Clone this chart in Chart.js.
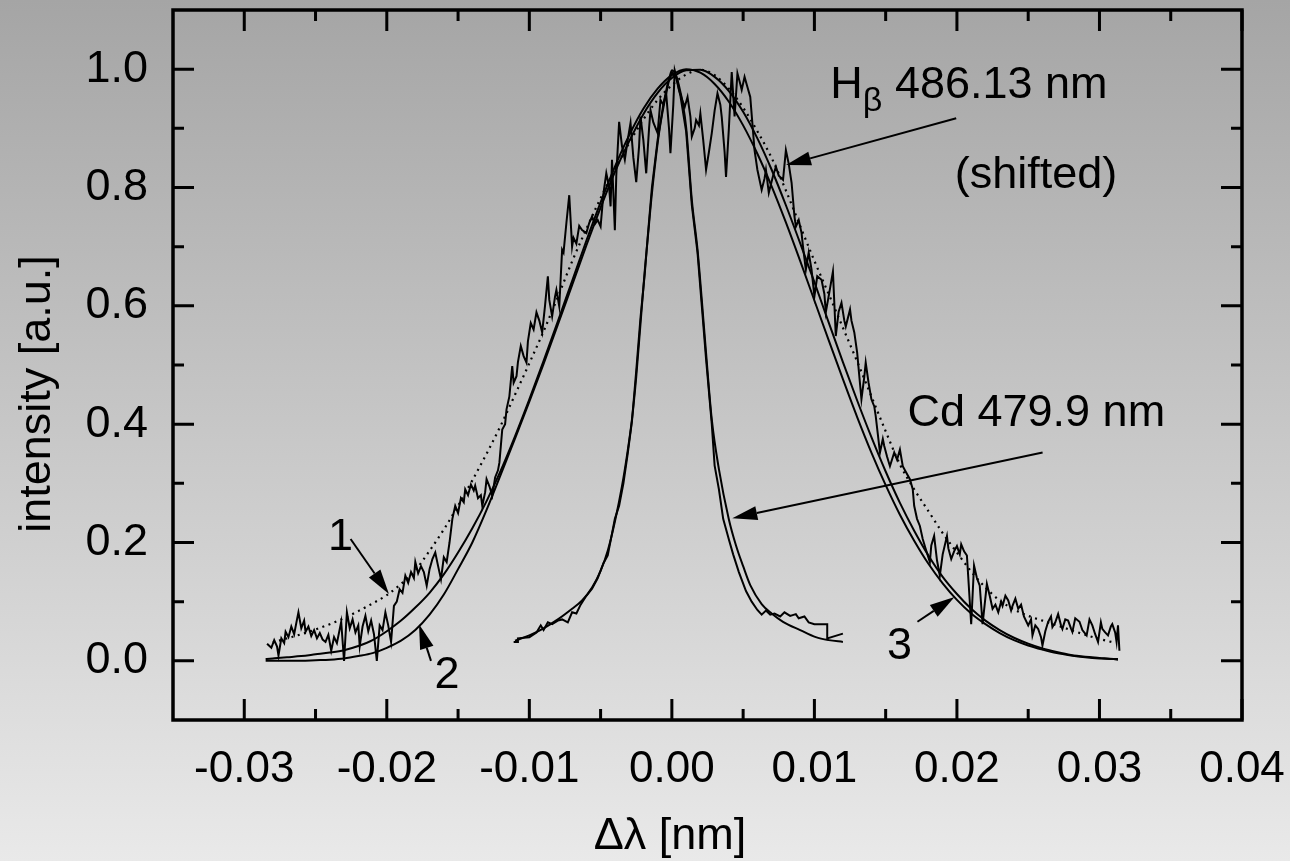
<!DOCTYPE html>
<html>
<head>
<meta charset="utf-8">
<script src="https://cdn.jsdelivr.net/npm/chart.js@4.4.1/dist/chart.umd.min.js"></script>
<style>
  html, body { margin: 0; padding: 0; background: #e8e8e8; }
</style>
</head>
<body>
<canvas id="chart" width="1290" height="861"></canvas>
<script>
// axis ticks
const xTickValues = [-0.03, -0.02, -0.01, 0.0, 0.01, 0.02, 0.03, 0.04]
const xMinorValues = [-0.025, -0.015, -0.005, 0.005, 0.015, 0.025, 0.035]
const yTickValues = [0.0, 0.2, 0.4, 0.6, 0.8, 1.0]
const yMinorValues = [0.1, 0.3, 0.5, 0.7, 0.9]

// H-beta measured profile [dlambda, intensity]
const hbData = [
  [-0.0284,0.029],[-0.0281,0.022],[-0.0279,0.035],[-0.0277,0.024],[-0.0276,0.009],[-0.0274,0.038],[-0.0272,0.030],[-0.0271,0.049],
  [-0.0269,0.040],[-0.0267,0.058],[-0.0265,0.045],[-0.0263,0.070],[-0.0262,0.082],[-0.0260,0.055],[-0.0258,0.068],[-0.0257,0.049],
  [-0.0255,0.058],[-0.0253,0.042],[-0.0251,0.052],[-0.0249,0.038],[-0.0247,0.047],[-0.0245,0.036],[-0.0243,0.032],[-0.0241,0.044],
  [-0.0239,0.017],[-0.0237,0.040],[-0.0235,0.030],[-0.0232,0.066],[-0.0230,0.000],[-0.0228,0.082],[-0.0226,0.055],[-0.0224,0.070],
  [-0.0222,0.048],[-0.0220,0.060],[-0.0219,0.025],[-0.0217,0.058],[-0.0215,0.076],[-0.0213,0.050],[-0.0211,0.068],[-0.0209,0.045],
  [-0.0207,0.000],[-0.0205,0.060],[-0.0203,0.052],[-0.0201,0.082],[-0.0199,0.060],[-0.0197,0.032],[-0.0195,0.093],[-0.0193,0.100],
  [-0.0191,0.121],[-0.0189,0.115],[-0.0187,0.144],[-0.0185,0.132],[-0.0183,0.150],[-0.0181,0.140],[-0.0180,0.167],[-0.0178,0.148],
  [-0.0176,0.160],[-0.0174,0.150],[-0.0172,0.127],[-0.0170,0.155],[-0.0168,0.172],[-0.0166,0.183],[-0.0164,0.160],[-0.0162,0.138],
  [-0.0160,0.175],[-0.0158,0.167],[-0.0156,0.200],[-0.0154,0.240],[-0.0152,0.262],[-0.0150,0.250],[-0.0148,0.275],[-0.0146,0.268],
  [-0.0145,0.290],[-0.0143,0.280],[-0.0141,0.298],[-0.0139,0.288],[-0.0138,0.296],[-0.0136,0.275],[-0.0134,0.280],[-0.0133,0.262],
  [-0.0131,0.285],[-0.0130,0.307],[-0.0128,0.295],[-0.0126,0.279],[-0.0124,0.310],[-0.0122,0.322],[-0.0121,0.335],[-0.0119,0.391],
  [-0.0117,0.400],[-0.0116,0.425],[-0.0114,0.447],[-0.0112,0.498],[-0.0111,0.470],[-0.0109,0.481],[-0.0108,0.505],[-0.0106,0.532],
  [-0.0104,0.515],[-0.0102,0.504],[-0.0101,0.540],[-0.0099,0.571],[-0.0097,0.560],[-0.0095,0.589],[-0.0093,0.575],[-0.0091,0.555],
  [-0.0089,0.600],[-0.0087,0.650],[-0.0086,0.610],[-0.0084,0.582],[-0.0082,0.615],[-0.0081,0.627],[-0.0079,0.599],[-0.0077,0.695],
  [-0.0076,0.690],[-0.0074,0.740],[-0.0072,0.787],[-0.0070,0.700],[-0.0069,0.715],[-0.0067,0.705],[-0.0065,0.735],[-0.0063,0.728],
  [-0.0060,0.723],[-0.0058,0.740],[-0.0056,0.751],[-0.0054,0.738],[-0.0052,0.745],[-0.0050,0.734],[-0.0048,0.790],[-0.0046,0.824],
  [-0.0044,0.800],[-0.0043,0.768],[-0.0042,0.847],[-0.0040,0.728],[-0.0039,0.820],[-0.0037,0.911],[-0.0035,0.870],[-0.0033,0.847],
  [-0.0031,0.880],[-0.0029,0.909],[-0.0027,0.850],[-0.0025,0.809],[-0.0023,0.870],[-0.0022,0.920],[-0.0020,0.880],[-0.0018,0.824],
  [-0.0016,0.900],[-0.0015,0.931],[-0.0013,0.910],[-0.0010,0.892],[-0.0008,0.948],[-0.0006,0.940],[-0.0004,0.959],[-0.0002,0.900],
  [-0.0001,0.858],[0.0001,0.940],[0.0002,0.998],[0.0004,0.980],[0.0005,0.965],[0.0007,0.950],[0.0009,0.936],[0.0011,0.953],
  [0.0013,0.920],[0.0014,0.886],[0.0016,0.900],[0.0017,0.914],[0.0019,0.905],[0.0020,0.925],[0.0022,0.880],[0.0024,0.830],
  [0.0026,0.860],[0.0028,0.892],[0.0030,0.930],[0.0032,0.959],[0.0034,0.940],[0.0035,0.919],[0.0037,0.860],[0.0038,0.818],
  [0.0040,0.900],[0.0042,0.995],[0.0044,0.920],[0.0046,0.993],[0.0048,0.975],[0.0049,0.965],[0.0051,0.987],[0.0053,0.970],
  [0.0055,0.953],[0.0058,0.863],[0.0060,0.830],[0.0063,0.796],[0.0065,0.815],[0.0066,0.830],[0.0068,0.791],[0.0071,0.820],
  [0.0073,0.835],[0.0075,0.820],[0.0078,0.813],[0.0080,0.863],[0.0082,0.840],[0.0084,0.808],[0.0086,0.751],[0.0087,0.734],
  [0.0089,0.745],[0.0091,0.723],[0.0092,0.700],[0.0094,0.661],[0.0096,0.690],[0.0098,0.661],[0.0100,0.616],[0.0102,0.650],
  [0.0105,0.644],[0.0107,0.620],[0.0108,0.589],[0.0111,0.630],[0.0113,0.658],[0.0115,0.549],[0.0117,0.590],[0.0119,0.605],
  [0.0121,0.575],[0.0122,0.565],[0.0125,0.594],[0.0126,0.575],[0.0128,0.555],[0.0130,0.521],[0.0133,0.442],[0.0135,0.480],
  [0.0136,0.504],[0.0138,0.470],[0.0140,0.442],[0.0142,0.430],[0.0143,0.414],[0.0146,0.352],[0.0148,0.375],[0.0149,0.363],
  [0.0151,0.345],[0.0153,0.329],[0.0156,0.352],[0.0158,0.340],[0.0160,0.357],[0.0162,0.329],[0.0164,0.320],[0.0167,0.307],
  [0.0169,0.290],[0.0170,0.262],[0.0172,0.240],[0.0174,0.228],[0.0176,0.206],[0.0178,0.190],[0.0181,0.167],[0.0182,0.195],
  [0.0184,0.211],[0.0186,0.170],[0.0188,0.144],[0.0190,0.180],[0.0193,0.211],[0.0194,0.190],[0.0196,0.172],[0.0198,0.185],
  [0.0200,0.194],[0.0202,0.180],[0.0203,0.197],[0.0205,0.185],[0.0207,0.178],[0.0210,0.062],[0.0212,0.161],[0.0214,0.140],
  [0.0216,0.127],[0.0218,0.062],[0.0221,0.130],[0.0223,0.110],[0.0225,0.088],[0.0227,0.095],[0.0229,0.082],[0.0231,0.100],
  [0.0232,0.093],[0.0234,0.110],[0.0236,0.102],[0.0238,0.085],[0.0239,0.093],[0.0241,0.105],[0.0243,0.088],[0.0245,0.095],
  [0.0247,0.075],[0.0250,0.060],[0.0252,0.070],[0.0253,0.043],[0.0255,0.060],[0.0257,0.054],[0.0259,0.040],[0.0260,0.026],
  [0.0262,0.050],[0.0264,0.066],[0.0266,0.075],[0.0267,0.057],[0.0269,0.065],[0.0271,0.079],[0.0273,0.060],[0.0274,0.054],
  [0.0276,0.070],[0.0278,0.068],[0.0280,0.055],[0.0281,0.049],[0.0283,0.072],[0.0286,0.066],[0.0288,0.052],[0.0291,0.043],
  [0.0293,0.070],[0.0295,0.060],[0.0297,0.045],[0.0299,0.032],[0.0301,0.065],[0.0302,0.054],[0.0304,0.048],[0.0306,0.043],
  [0.0308,0.058],[0.0309,0.062],[0.0311,0.048],[0.0312,0.032],[0.0313,0.060],[0.0314,0.017]
]

// fit 1 (dotted)
const fit1X = [-0.028,-0.027,-0.026,-0.025,-0.024,-0.023,-0.022,-0.021,-0.020,-0.019,-0.018,-0.017,-0.016,-0.015,-0.014,
  -0.013,-0.012,-0.011,-0.010,-0.009,-0.008,-0.007,-0.006,-0.005,-0.004,-0.003,-0.002,-0.001,0.000,0.001,0.002,0.003,0.004,
  0.005,0.006,0.007,0.008,0.009,0.010,0.011,0.012,0.013,0.014,0.015,0.016,0.017,0.018,0.019,0.020,0.021,0.022,0.023,0.024,
  0.025,0.026,0.027,0.028,0.029,0.030,0.031]
const fit1Y = [0.031,0.038,0.045,0.053,0.062,0.072,0.084,0.097,0.111,0.130,0.153,0.186,0.222,0.262,0.305,
  0.350,0.398,0.450,0.503,0.557,0.615,0.675,0.730,0.782,0.830,0.875,0.915,0.948,0.973,0.991,0.999,0.990,0.967,
  0.935,0.895,0.850,0.795,0.735,0.676,0.620,0.563,0.506,0.447,0.388,0.332,0.290,0.253,0.216,0.183,0.151,0.124,0.102,0.087,
  0.076,0.068,0.060,0.052,0.044,0.037,0.031]

// fits 2 and 3 (solid)
const fitX = [-0.0285,-0.028,-0.027,-0.026,-0.025,-0.024,-0.023,-0.022,-0.021,-0.020,-0.019,-0.018,-0.017,-0.016,-0.015,
  -0.014,-0.013,-0.012,-0.011,-0.010,-0.009,-0.008,-0.007,-0.006,-0.005,-0.004,-0.003,-0.002,-0.001,0.000,0.001,0.002,
  0.003,0.004,0.005,0.006,0.007,0.008,0.009,0.010,0.011,0.012,0.013,0.014,0.015,0.016,0.017,0.018,0.019,0.020,0.021,
  0.022,0.023,0.024,0.025,0.026,0.027,0.028,0.029,0.030,0.031,0.0313]
const fit2Y = [0.000,0.000,0.000,0.000,0.001,0.002,0.004,0.008,0.013,0.022,0.034,0.052,0.078,0.112,0.155,
  0.200,0.255,0.315,0.376,0.438,0.502,0.568,0.635,0.702,0.766,0.826,0.878,0.924,0.960,0.985,0.998,0.999,
  0.987,0.963,0.928,0.883,0.830,0.770,0.706,0.640,0.572,0.505,0.440,0.378,0.320,0.267,0.220,0.178,0.142,0.113,0.088,
  0.068,0.052,0.039,0.029,0.021,0.015,0.010,0.007,0.005,0.003,0.003]
const fit3Y = [0.003,0.004,0.006,0.008,0.011,0.014,0.018,0.025,0.035,0.050,0.068,0.090,0.115,0.146,0.183,
  0.224,0.270,0.322,0.380,0.442,0.507,0.574,0.642,0.710,0.775,0.835,0.888,0.933,0.967,0.990,1.000,0.994,
  0.975,0.945,0.905,0.857,0.802,0.741,0.676,0.609,0.542,0.476,0.412,0.352,0.297,0.247,0.203,0.164,0.131,0.103,0.080,
  0.062,0.047,0.035,0.026,0.019,0.013,0.009,0.006,0.004,0.003,0.002]

// Cd 479.9 nm measured and fitted [dlambda, intensity]
const cdData = [
  [-0.0111,0.032],[-0.0108,0.032],[-0.0108,0.038],[-0.0100,0.040],[-0.0095,0.048],[-0.0092,0.060],[-0.0090,0.052],
  [-0.0087,0.065],[-0.0084,0.062],[-0.0080,0.068],[-0.0077,0.070],[-0.0073,0.065],[-0.0070,0.082],[-0.0067,0.080],
  [-0.0064,0.095],[-0.0060,0.110],[-0.0056,0.122],[-0.0052,0.140],[-0.0048,0.165],[-0.0045,0.178],[-0.0042,0.215],
  [-0.0040,0.240],[-0.0037,0.262],[-0.0034,0.300],[-0.0031,0.350],[-0.0028,0.405],[-0.0025,0.490],[-0.0022,0.580],
  [-0.0019,0.655],[-0.0017,0.715],[-0.0014,0.800],[-0.0010,0.880],[-0.0006,0.940],[-0.0003,0.975],[0.0000,0.995],
  [0.0003,0.985],[0.0006,0.955],[0.0010,0.895],[0.0014,0.770],[0.0018,0.690],[0.0021,0.600],[0.0024,0.510],
  [0.0028,0.400],[0.0030,0.330],[0.0033,0.290],[0.0036,0.240],[0.0040,0.205],[0.0043,0.180],[0.0047,0.150],
  [0.0052,0.118],[0.0056,0.100],[0.0060,0.086],[0.0063,0.078],[0.0066,0.085],[0.0069,0.078],[0.0072,0.080],
  [0.0076,0.075],[0.0079,0.082],[0.0083,0.076],[0.0087,0.079],[0.0089,0.072],[0.0093,0.075],[0.0096,0.065],
  [0.0100,0.062],[0.0109,0.062],[0.0109,0.038],[0.0120,0.046]
]
const cdFit = [
  [-0.0110,0.034],[-0.0100,0.043],[-0.0090,0.055],[-0.0080,0.070],[-0.0070,0.088],[-0.0063,0.102],[-0.0056,0.124],
  [-0.0050,0.152],[-0.0045,0.186],[-0.0040,0.235],[-0.0035,0.295],[-0.0031,0.355],[-0.0028,0.408],[-0.0025,0.480],
  [-0.0022,0.570],[-0.0019,0.660],[-0.0017,0.712],[-0.0014,0.790],[-0.0009,0.892],[-0.0003,0.970],[0.0000,0.998],
  [0.0005,0.972],[0.0010,0.902],[0.0014,0.779],[0.0018,0.695],[0.0021,0.610],[0.0024,0.520],[0.0028,0.408],
  [0.0033,0.324],[0.0040,0.239],[0.0045,0.195],[0.0050,0.160],[0.0055,0.128],[0.0063,0.096],[0.0070,0.080],
  [0.0078,0.066],[0.0090,0.052],[0.0101,0.040],[0.0110,0.035],[0.0120,0.032]
]

const FONT = '"Liberation Sans", Arial, Helvetica, sans-serif'

const toPts = (xs, ys) => xs.map((x, i) => ({ x: x, y: ys[i] }))
const pairPts = (arr) => arr.map(p => ({ x: p[0], y: p[1] }))

// background gradient
const bgPlugin = {
  id: 'bg',
  beforeDraw(chart) {
    const { ctx, width, height } = chart
    const g = ctx.createLinearGradient(0, 0, 0, height)
    g.addColorStop(0, '#a5a5a5')
    g.addColorStop(1, '#e9e9e9')
    ctx.save()
    ctx.fillStyle = g
    ctx.fillRect(0, 0, width, height)
    ctx.restore()
  },
}

// box and inward ticks on all four sides
const framePlugin = {
  id: 'frame',
  afterDatasetsDraw(chart) {
    const { ctx, chartArea: a, scales } = chart
    const sx = scales.x, sy = scales.y
    ctx.save()
    ctx.strokeStyle = '#000'
    ctx.lineWidth = 3
    ctx.beginPath()
    const xt = (vals, len) => vals.forEach(v => {
      const p = sx.getPixelForValue(v)
      ctx.moveTo(p, a.bottom); ctx.lineTo(p, a.bottom - len)
      ctx.moveTo(p, a.top); ctx.lineTo(p, a.top + len)
    })
    const yt = (vals, len) => vals.forEach(v => {
      const p = sy.getPixelForValue(v)
      ctx.moveTo(a.left, p); ctx.lineTo(a.left + len, p)
      ctx.moveTo(a.right, p); ctx.lineTo(a.right - len, p)
    })
    xt(xTickValues, 21); xt(xMinorValues, 11)
    yt(yTickValues, 21); yt(yMinorValues, 11)
    ctx.stroke()
    ctx.lineWidth = 3.5
    ctx.strokeRect(a.left, a.top, a.right - a.left, a.bottom - a.top)
    ctx.restore()
  },
}

// labels, arrows and axis titles
const arrows = [
  { from: [0.01995, 0.917], to: [0.00801, 0.838] },
  { from: [0.02601, 0.352], to: [0.00424, 0.241] },
  { from: [-0.02254, 0.206], to: [-0.01985, 0.113] },
  { from: [-0.0169, 0.000], to: [-0.01774, 0.062] },
  { from: [0.01723, 0.066], to: [0.01983, 0.108] },
]
const labels = [
  { text: '1', at: [-0.02324, 0.209] },
  { text: '2', at: [-0.01577, -0.025] },
  { text: '3', at: [0.01597, 0.024] },
]

function drawArrow(ctx, x0, y0, x1, y1) {
  const ang = Math.atan2(y1 - y0, x1 - x0)
  const hl = 25, hw = 7
  const bx = x1 - hl * Math.cos(ang), by = y1 - hl * Math.sin(ang)
  ctx.beginPath()
  ctx.moveTo(x0, y0)
  ctx.lineTo(bx, by)
  ctx.stroke()
  ctx.beginPath()
  ctx.moveTo(x1, y1)
  ctx.lineTo(bx + hw * Math.sin(ang), by - hw * Math.cos(ang))
  ctx.lineTo(bx - hw * Math.sin(ang), by + hw * Math.cos(ang))
  ctx.closePath()
  ctx.fill()
}

const notePlugin = {
  id: 'notes',
  afterDraw(chart) {
    const { ctx, scales } = chart
    const sx = scales.x, sy = scales.y
    const px = v => sx.getPixelForValue(v), py = v => sy.getPixelForValue(v)
    ctx.save()
    ctx.fillStyle = '#000'
    ctx.strokeStyle = '#000'
    ctx.lineWidth = 2

    arrows.forEach(ar => drawArrow(ctx, px(ar.from[0]), py(ar.from[1]), px(ar.to[0]), py(ar.to[1])))

    ctx.font = '45px ' + FONT
    ctx.textAlign = 'center'
    ctx.textBaseline = 'middle'
    labels.forEach(l => ctx.fillText(l.text, px(l.at[0]), py(l.at[1])))

    // H-beta label with subscript
    ctx.textAlign = 'left'
    ctx.textBaseline = 'alphabetic'
    let hx = px(0.01112)
    const hy = py(0.951)
    ctx.fillText('H', hx, hy)
    hx += ctx.measureText('H').width
    ctx.font = '34px ' + FONT
    ctx.fillText('\u03B2', hx, hy + 13)
    hx += ctx.measureText('\u03B2').width
    ctx.font = '45px ' + FONT
    ctx.fillText(' 486.13 nm', hx, hy)
    ctx.fillText('(shifted)', px(0.01984), py(0.7993))
    ctx.fillText('Cd 479.9 nm', px(0.01653), py(0.3963))

    // axis titles
    ctx.textAlign = 'center'
    ctx.fillText('\u0394\u03BB [nm]', 670, 849)
    ctx.translate(50, 394)
    ctx.rotate(-Math.PI / 2)
    ctx.fillText('intensity [a.u.]', 0, 0)
    ctx.restore()
  },
}

const line = (data, extra) => Object.assign({
  data: data,
  showLine: true,
  borderColor: '#000',
  borderWidth: 2,
  pointRadius: 0,
  fill: false,
}, extra)

new Chart(document.getElementById('chart'), {
  type: 'scatter',
  data: {
    datasets: [
      line(pairPts(hbData), { borderWidth: 2 }),
      line(toPts(fit1X, fit1Y), { borderWidth: 2.2, borderDash: [2, 4.5], cubicInterpolationMode: 'monotone' }),
      line(toPts(fitX, fit2Y), { cubicInterpolationMode: 'monotone' }),
      line(toPts(fitX, fit3Y), { cubicInterpolationMode: 'monotone' }),
      line(pairPts(cdData), { borderWidth: 2 }),
      line(pairPts(cdFit), { cubicInterpolationMode: 'monotone' }),
    ],
  },
  options: {
    responsive: false,
    animation: false,
    layout: { padding: { top: 10, right: 48, left: 0, bottom: 0 } },
    plugins: { legend: { display: false }, tooltip: { enabled: false } },
    scales: {
      x: {
        type: 'linear',
        min: -0.035,
        max: 0.04,
        grid: { display: false, drawTicks: false },
        border: { display: false },
        afterBuildTicks: s => { s.ticks = xTickValues.map(v => ({ value: v })) },
        afterFit: s => { s.height = 141; s.paddingLeft = 0; s.paddingRight = 0 },
        ticks: {
          autoSkip: false,
          maxRotation: 0,
          padding: 23,
          color: '#000',
          font: { family: FONT, size: 44 },
          callback: v => v.toFixed(2),
        },
      },
      y: {
        type: 'linear',
        min: -0.1,
        max: 1.1,
        grid: { display: false, drawTicks: false },
        border: { display: false },
        afterBuildTicks: s => { s.ticks = yTickValues.map(v => ({ value: v })) },
        afterFit: s => { s.width = 173; s.paddingTop = 0; s.paddingBottom = 0 },
        ticks: {
          autoSkip: false,
          padding: 25,
          color: '#000',
          font: { family: FONT, size: 45 },
          callback: v => v.toFixed(1),
        },
      },
    },
  },
  plugins: [bgPlugin, framePlugin, notePlugin],
})
</script>
</body>
</html>
